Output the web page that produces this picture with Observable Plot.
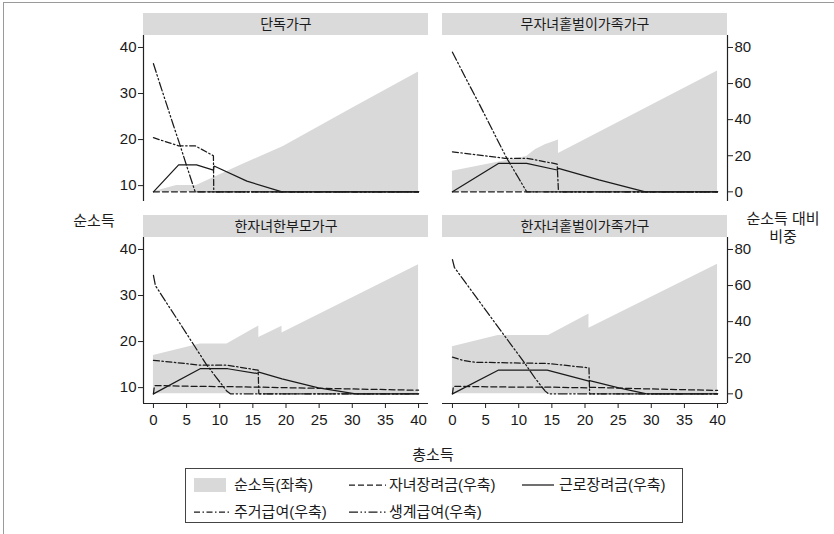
<!DOCTYPE html>
<html><head><meta charset="utf-8">
<script src="https://cdn.jsdelivr.net/npm/d3@7"></script>
<script src="https://cdn.jsdelivr.net/npm/@observablehq/plot@0.6"></script>
<style>
body{margin:0;background:#fff;font-family:"Liberation Sans","Noto Sans CJK KR",sans-serif;color:#1a1a1a}
#wrap{position:relative;width:834px;height:534px;overflow:hidden;background:#fff}
#frame{position:absolute;left:3px;top:2px;width:900px;height:600px;border-top:1.5px solid #9a9a9a;border-left:1.5px solid #9a9a9a}
#chart{position:absolute;left:0;top:0}
.lab{position:absolute;font-size:15px;white-space:nowrap;transform:translate(-50%,-50%);text-align:center;line-height:18px}
#legend{position:absolute;left:185px;top:468px;width:498px;height:55px;border:1px solid #444;box-sizing:border-box}
.item{position:absolute;font-size:15px;white-space:nowrap;transform:translateY(-50%);line-height:18px}
.sw{position:absolute;transform:translateY(-50%)}
</style></head>
<body>
<div id="wrap">
  <div id="frame"></div>
  <div id="chart"></div>
  <div class="lab" style="left:94px;top:221px">순소득</div>
  <div class="lab" style="left:783px;top:228px">순소득 대비<br>비중</div>
  <div class="lab" style="left:433px;top:455px">총소득</div>
  <div id="legend"></div>
</div>
<script>
// ---------- data ----------
const panels = ["단독가구", "무자녀홑벌이가족가구", "한자녀한부모가구", "한자녀홑벌이가족가구"];
const panelCol = [0, 1, 0, 1];
const panelRow = [0, 0, 1, 1];
const xTicks = [0, 5, 10, 15, 20, 25, 30, 35, 40];
const leftTicks = [10, 20, 30, 40];
const rightTicks = [0, 20, 40, 60, 80];
const seriesNames = ["순소득(좌축)", "자녀장려금(우축)", "근로장려금(우축)", "주거급여(우축)", "생계급여(우축)"];

// 순소득 (left axis): [총소득, 순소득]
const net0 = [[0, 8.65], [3.5, 10], [6.5, 10], [13, 14.3], [19.6, 18.5], [30, 26.8], [40, 34.7]];
const net1 = [[0, 13.1], [11.2, 16.3], [12.5, 17.8], [14, 18.9], [16, 19.9], [16, 17.0], [40, 34.9]];
const net2 = [[0, 17.0], [7.05, 19.45], [11.1, 19.45], [15.9, 23.4], [15.9, 20.9], [19.4, 23.3], [19.4, 21.85], [40, 36.7]];
const net3 = [[0, 18.9], [6.9, 21.3], [14.5, 21.3], [20.6, 26.0], [20.6, 22.9], [40, 36.8]];

// 자녀장려금 (right axis, %)
const child0 = [[0, 0], [40, 0]];
const child1 = [[0, 0], [40, 0]];
const child2 = [[0, 0], [0.15, 4.6], [7, 4.1], [11, 4.0], [16, 3.7], [20, 3.4], [30, 2.7], [40, 2.0]];
const child3 = [[0, 0], [0.15, 4.2], [7, 3.8], [14.5, 3.7], [20.6, 3.3], [20.7, 3.6], [30, 2.7], [40, 1.9]];

// 근로장려금 (right axis, %)
const eitc0 = [[0, 0], [3.8, 14.9], [6.5, 14.9], [9.05, 12.0], [9.15, 14.3], [14.1, 5.9], [19.4, 0], [40, 0]];
const eitc1 = [[0, 0], [7, 15.8], [11.2, 15.8], [15.8, 12.1], [16, 13.0], [22.1, 6.6], [29.1, 0], [40, 0]];
const eitc2 = [[0, 0], [7.05, 13.9], [11.2, 13.9], [15.6, 11.3], [15.9, 12.0], [19.4, 8.3], [24.9, 3.3], [30.5, 0], [40, 0]];
const eitc3 = [[0, 0], [6.9, 13.1], [14.3, 13.1], [20.6, 7.0], [20.7, 7.3], [25.1, 3.3], [29.3, 0], [40, 0]];

// 주거급여 (right axis, %)
const housing0 = [[0, 30], [3.8, 25.5], [6.3, 25.5], [9.05, 20], [9.1, 0], [40, 0]];
const housing1 = [[0, 22.2], [7.9, 18.6], [11.2, 18.6], [15.8, 15.4], [16, 0], [40, 0]];
const housing2 = [[0, 18.6], [7.05, 15.9], [11.1, 15.9], [15.8, 13.1], [15.9, 0], [40, 0]];
const housing3 = [[0, 20.3], [1.5, 18.6], [3.4, 17.5], [14.5, 16.8], [20.6, 14.4], [20.7, 0], [40, 0]];

// 생계급여 (right axis, %)
const livelihood0 = [[0, 71], [1, 59.5], [2, 48.3], [3, 37], [4, 26], [5, 14.5], [6, 3.3], [6.3, 0], [40, 0]];
const livelihood1 = [[0, 77.4], [2, 63], [4, 49], [6, 34.5], [8.2, 18.6], [10, 7.5], [11.2, 0], [40, 0]];
const livelihood2 = [[0, 65.6], [0.3, 60], [2, 50.3], [4, 39], [6, 27.6], [8, 16.2], [9.5, 9], [11.1, 1.4], [11.6, 0], [40, 0]];
const livelihood3 = [[0, 74.4], [0.3, 70], [3, 56.5], [6, 41.5], [9, 26.5], [11, 16.5], [12.5, 8.5], [14, 1.5], [14.5, 0], [40, 0]];

// ---------- build tables ----------
const netSeries = [net0, net1, net2, net3];
const lineSeries = [
  [child0, child1, child2, child3],
  [eitc0, eitc1, eitc2, eitc3],
  [housing0, housing1, housing2, housing3],
  [livelihood0, livelihood1, livelihood2, livelihood3]
];
const dashes = ["6,3", null, "6,2.5,1.5,2.5", "9,2.5,1.5,2.5,1.5,2.5"];

// dual-axis alignment: right-axis 0 sits at left-axis 8.65, right 80 at left 40
const R0 = 8.65, K = (40 - R0) / 80;
const toLeft = w => R0 + w * K;
const XD = [-1.5, 41.5], YD = [6.55, 42.6];
const bandH = 166, pxPerY = bandH / (YD[1] - YD[0]);

const facets = panels.map((name, i) => ({name, fx: panelCol[i], fy: panelRow[i]}));
const areaRows = [];
netSeries.forEach((s, i) => s.forEach(([x, v]) => areaRows.push({panel: i, fx: panelCol[i], fy: panelRow[i], x, v})));
const lineRows = lineSeries.map(group => {
  const rows = [];
  group.forEach((s, i) => s.forEach(([x, w]) => rows.push({panel: i, fx: panelCol[i], fy: panelRow[i], x, w})));
  return rows;
});

const ink = "#1a1a1a";
const chart = Plot.plot({
  width: 834, height: 460,
  marginLeft: 143, marginRight: 107, marginTop: 35, marginBottom: 57,
  style: {fontFamily: "'Liberation Sans','Noto Sans CJK KR',sans-serif", fontSize: "15px", color: ink, background: "transparent"},
  x: {domain: XD},
  y: {domain: YD},
  fx: {domain: [0, 1], paddingInner: 14 / 299, paddingOuter: 0, round: false, axis: null},
  fy: {domain: [0, 1], paddingInner: 36 / 202, paddingOuter: 0, round: false, axis: null},
  marks: [
    Plot.rect(facets, {fx: "fx", fy: "fy", x1: XD[0], x2: XD[1], y1: YD[1], y2: YD[1] + 22 / pxPerY, fill: "#dadada"}),
    Plot.text(facets, {fx: "fx", fy: "fy", x: (XD[0] + XD[1]) / 2, y: YD[1] + 11 / pxPerY, text: "name", fontSize: 14, fill: ink}),
    Plot.areaY(areaRows, {x: "x", y1: R0, y2: "v", z: "panel", fx: "fx", fy: "fy", fill: "#d9d9d9"}),
    ...lineRows.map((rows, k) => Plot.line(rows, {
      x: "x", y: d => toLeft(d.w), z: "panel", fx: "fx", fy: "fy",
      stroke: ink, strokeWidth: 1.25, strokeDasharray: dashes[k]
    })),
    Plot.ruleX(facets.filter(f => f.fx === 0), {fx: "fx", fy: "fy", x: XD[0], stroke: "#222", strokeWidth: 1.2}),
    Plot.ruleX(facets.filter(f => f.fx === 1), {fx: "fx", fy: "fy", x: XD[1], stroke: "#222", strokeWidth: 1.2}),
    Plot.ruleY(facets.filter(f => f.fy === 1), {fx: "fx", fy: "fy", y: YD[0], stroke: "#222", strokeWidth: 1.2}),
    Plot.axisY(leftTicks, {anchor: "left", tickSize: 5, tickPadding: 2, fontSize: 15, label: null, stroke: "#222"}),
    Plot.axisY(rightTicks.map(toLeft), {anchor: "right", tickSize: 5, tickPadding: 2, fontSize: 15, label: null, stroke: "#222",
      tickFormat: v => String(Math.round((v - R0) / K))}),
    Plot.axisX(xTicks, {anchor: "bottom", tickSize: 5, tickPadding: 6, fontSize: 15, label: null, stroke: "#222"})
  ]
});
document.getElementById("chart").appendChild(chart);

// ---------- legend ----------
const legendLayout = [
  {left: 8, top: 16, w: 32, text: 48},
  {left: 163, top: 16, w: 37, text: 203},
  {left: 336, top: 16, w: 32, text: 373},
  {left: 8, top: 43, w: 37, text: 48},
  {left: 163, top: 43, w: 37, text: 203}
];
const legend = document.getElementById("legend");
seriesNames.forEach((name, i) => {
  const L = legendLayout[i];
  let sw;
  if (i === 0) {
    sw = `<svg class="sw" style="left:${L.left}px;top:${L.top}px" width="${L.w}" height="14"><rect width="${L.w}" height="14" fill="#d9d9d9"/></svg>`;
  } else {
    const da = dashes[i - 1];
    sw = `<svg class="sw" style="left:${L.left}px;top:${L.top}px" width="${L.w}" height="14"><line x1="0" x2="${L.w}" y1="7" y2="7" stroke="${ink}" stroke-width="1.25" ${da ? `stroke-dasharray="${da}"` : ""}/></svg>`;
  }
  legend.insertAdjacentHTML("beforeend", sw + `<div class="item" style="left:${L.text}px;top:${L.top}px">${name}</div>`);
});
</script>
</body></html>
